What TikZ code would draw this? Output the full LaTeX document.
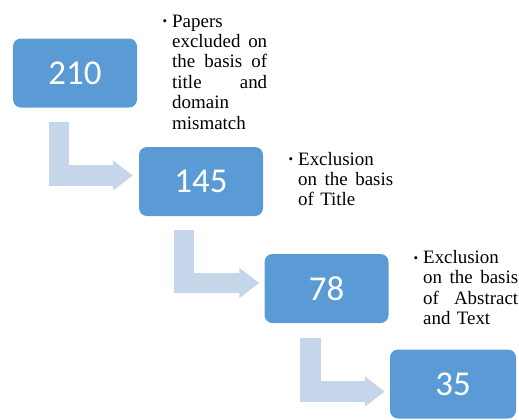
\documentclass[tikz,border=0pt]{standalone}
\usepackage{fontspec}
\setmainfont{Liberation Serif}
\newfontfamily\numfont{Carlito}
\usetikzlibrary{calc,arrows.meta}
\definecolor{boxblue}{HTML}{5B9BD5}
\definecolor{arrowblue}{HTML}{C5D6EB}
\newcommand\jline[1]{\makebox[95bp][s]{#1}}
\newcommand\bulletmark{\llap{\raisebox{1.5bp}{\fontsize{13}{13}\selectfont\textbullet}\hspace{5bp}}}
\begin{document}
\begin{tikzpicture}[x=1bp,y=-1bp,
  numbox/.style={fill=boxblue, rounded corners=8bp, minimum width=124bp, minimum height=69bp, inner sep=0pt, text=white, font=\numfont\fontsize{35}{35}\selectfont},
  bentarrow/.style={draw=arrowblue, line width=20.5bp, line join=miter, -{Triangle[length=20bp,width=29bp]}},
  note/.style={anchor=base west, inner sep=0pt, text width=95bp, align=left, font=\fontsize{19}{20.5}\selectfont}]
\useasboundingbox (0,0) rectangle (519,419);
% boxes
\node[numbox] (b1) at (75,73) {210};
\node[numbox] (b2) at (201,181.5) {145};
\node[numbox] (b3) at (326.5,288.5) {78};
\node[numbox, minimum width=126bp] (b4) at (453,384) {35};
% bent arrows
\draw[bentarrow] ($(b1.south west)+(46,14)$) |- ($(b2.west)+(-6,-6)$);
\draw[bentarrow] ($(b2.south west)+(45,14)$) |- ($(b3.west)+(-5,-5.5)$);
\draw[bentarrow] ($(b3.south west)+(46,15)$) |- ($(b4.west)+(-5,7.5)$);
% notes
\node[note] (n1) at (172,27) {\bulletmark Papers\\ \jline{excluded\hfill on}\\ \jline{the\hfill basis\hfill of}\\ \jline{title\hfill and}\\ domain\\ mismatch};
\node[note] (n2) at (298,165) {\bulletmark Exclusion\\ \jline{on\hfill the\hfill basis}\\ of Title};
\node[note] (n3) at (423,263.5) {\bulletmark Exclusion\\ \jline{on\hfill the\hfill basis}\\ \jline{of\hfill Abstract}\\ and Text};
\end{tikzpicture}
\end{document}
